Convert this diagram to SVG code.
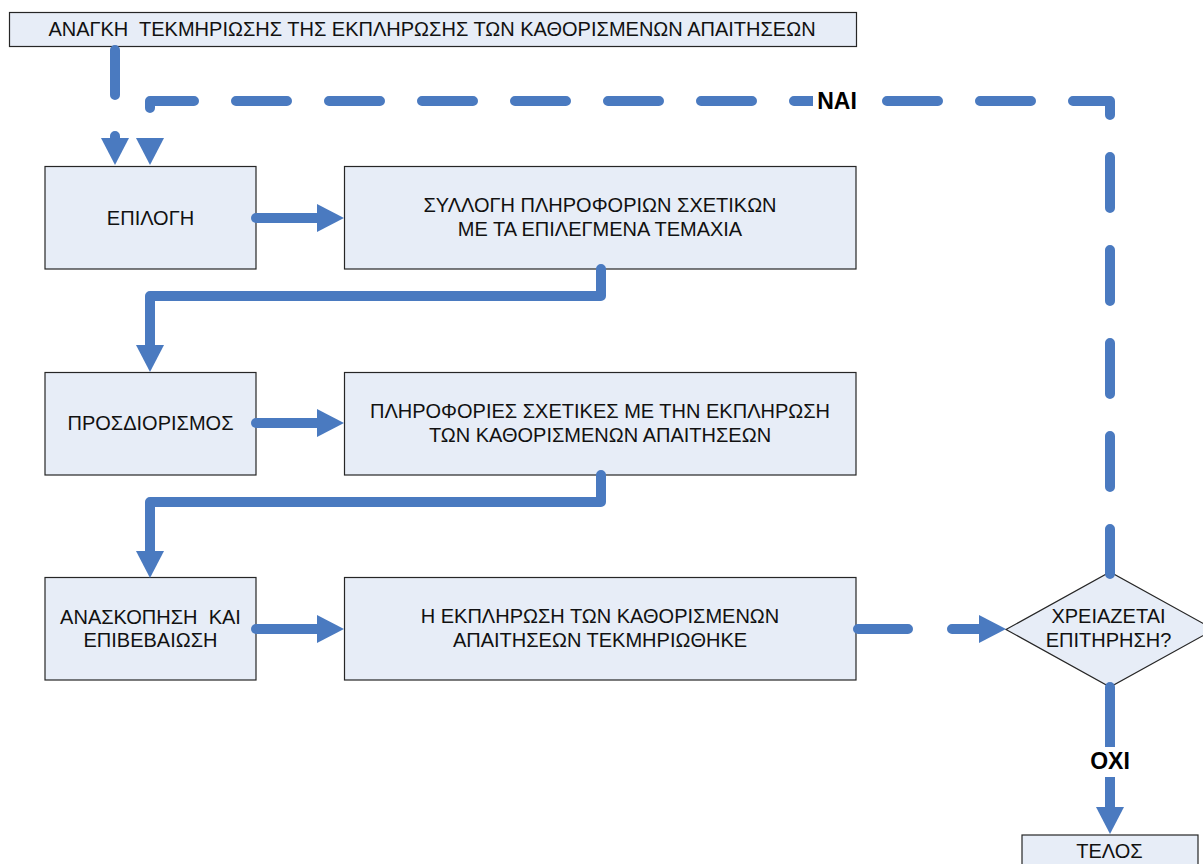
<svg xmlns="http://www.w3.org/2000/svg" width="1203" height="864" viewBox="0 0 1203 864">
  <style>
    .box { fill: #E7EDF7; stroke: #262626; stroke-width: 1.2; }
    .txt { font-family: "Liberation Sans", Arial, sans-serif; font-size: 20px; fill: #111; text-anchor: middle; white-space: pre; }
    .lbl { font-family: "Liberation Sans", Arial, sans-serif; font-size: 23px; font-weight: bold; fill: #000; text-anchor: middle; }
    .conn { fill: none; stroke: #4A7AC0; stroke-width: 10; stroke-linecap: round; stroke-linejoin: round; }
    .arr { marker-end: url(#ah); }
    .dash-loop { stroke-dasharray: 51 42; stroke-dashoffset: 6; }
  </style>
  <defs>
    <marker id="ah" markerUnits="userSpaceOnUse" markerWidth="27" markerHeight="28" refX="0" refY="14" orient="auto" overflow="visible">
      <path d="M0,0 L27,14 L0,28 Z" fill="#4A7AC0"/>
    </marker>
  </defs>
  <rect width="1203" height="864" fill="#ffffff"/>

  <g id="n-start">
    <rect class="box" x="9.5" y="12.5" width="847" height="34"/>
    <text class="txt" x="432" y="36" xml:space="preserve">ΑΝΑΓΚΗ  ΤΕΚΜΗΡΙΩΣΗΣ ΤΗΣ ΕΚΠΛΗΡΩΣΗΣ ΤΩΝ ΚΑΘΟΡΙΣΜΕΝΩΝ ΑΠΑΙΤΗΣΕΩΝ</text>
  </g>
  <g id="n-epilogi">
    <rect class="box" x="45" y="166.5" width="211" height="102.5"/>
    <text class="txt" x="150.5" y="225">ΕΠΙΛΟΓΗ</text>
  </g>
  <g id="n-syllogi">
    <rect class="box" x="344.5" y="166.5" width="511.5" height="102.5"/>
    <text class="txt" x="600" y="211.5">ΣΥΛΛΟΓΗ ΠΛΗΡΟΦΟΡΙΩΝ ΣΧΕΤΙΚΩΝ</text>
    <text class="txt" x="600" y="235.5">ΜΕ ΤΑ ΕΠΙΛΕΓΜΕΝΑ ΤΕΜΑΧΙΑ</text>
  </g>
  <g id="n-prosdiorismos">
    <rect class="box" x="45" y="372.5" width="211" height="102.5"/>
    <text class="txt" x="150.5" y="430">ΠΡΟΣΔΙΟΡΙΣΜΟΣ</text>
  </g>
  <g id="n-plirofories">
    <rect class="box" x="344.5" y="372.5" width="511.5" height="102.5"/>
    <text class="txt" x="600" y="417.5">ΠΛΗΡΟΦΟΡΙΕΣ ΣΧΕΤΙΚΕΣ ΜΕ ΤΗΝ ΕΚΠΛΗΡΩΣΗ</text>
    <text class="txt" x="600" y="441.5">ΤΩΝ ΚΑΘΟΡΙΣΜΕΝΩΝ ΑΠΑΙΤΗΣΕΩΝ</text>
  </g>
  <g id="n-anaskopisi">
    <rect class="box" x="45" y="577.5" width="211" height="102.5"/>
    <text class="txt" x="150.5" y="623.5" xml:space="preserve">ΑΝΑΣΚΟΠΗΣΗ  ΚΑΙ</text>
    <text class="txt" x="150.5" y="647">ΕΠΙΒΕΒΑΙΩΣΗ</text>
  </g>
  <g id="n-ekplirosi">
    <rect class="box" x="344.5" y="577.5" width="511.5" height="102.5"/>
    <text class="txt" x="600" y="623">Η ΕΚΠΛΗΡΩΣΗ ΤΩΝ ΚΑΘΟΡΙΣΜΕΝΩΝ</text>
    <text class="txt" x="600" y="647">ΑΠΑΙΤΗΣΕΩΝ ΤΕΚΜΗΡΙΩΘΗΚΕ</text>
  </g>
  <g id="n-decision">
    <polygon class="box" points="1006,629.5 1110,572 1214,629.5 1110,687"/>
    <text class="txt" x="1108.5" y="623">ΧΡΕΙΑΖΕΤΑΙ</text>
    <text class="txt" x="1108.5" y="647">ΕΠΙΤΗΡΗΣΗ?</text>
  </g>
  <g id="n-telos">
    <rect class="box" x="1022" y="835" width="176" height="40"/>
    <text class="txt" x="1109.5" y="857.5">ΤΕΛΟΣ</text>
  </g>

  <g id="connectors">
    <path class="conn arr" d="M115,50 V138" style="stroke-dasharray:45 41"/>
    <path class="conn arr dash-loop" d="M1110,574 V101 H150 V138"/>
    <path class="conn arr" d="M256,218 H317"/>
    <path class="conn arr" d="M601,269 V296 H150 V345"/>
    <path class="conn arr" d="M256,423 H317"/>
    <path class="conn arr" d="M601,475 V502 H150 V551"/>
    <path class="conn arr" d="M256,629 H317"/>
    <path class="conn arr" d="M858,629 H979" style="stroke-dasharray:50 44"/>
    <path class="conn arr" d="M1110,687 V807"/>
    <rect x="813" y="86" width="48" height="30" fill="#ffffff"/>
    <text class="lbl" x="837" y="109">ΝΑΙ</text>
    <rect x="1084" y="747" width="52" height="30" fill="#ffffff"/>
    <text class="lbl" x="1110" y="769">ΟΧΙ</text>
  </g>
</svg>
